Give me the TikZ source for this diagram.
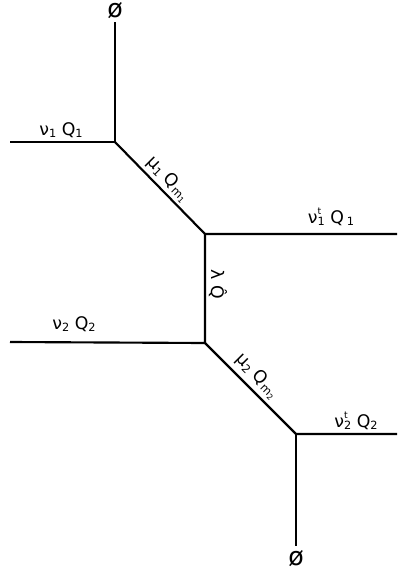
\documentclass[tikz,border=0pt]{standalone}
\usepackage{fontspec}
\setmainfont{DejaVu Sans}
\newcommand{\subtxt}[1]{\raisebox{-0.3ex}{\fontsize{8.5}{9}\selectfont#1}}
\newcommand{\supsubtxt}[2]{\makebox[0pt][l]{\raisebox{0.9ex}{\fontsize{7}{8}\selectfont#1}}\raisebox{-0.3ex}{\fontsize{8.5}{9}\selectfont#2}}
\tikzset{leg/.style={line width=1.6pt},
  lab/.style={inner sep=1pt,font=\fontsize{13}{15}\selectfont},
  empty/.style={inner sep=0pt,font=\fontsize{19}{21}\selectfont}}
\begin{document}
\begin{tikzpicture}[x=0.75pt,y=-0.75pt]
            \useasboundingbox (0,0) rectangle (397,575);
            \coordinate (a) at (115,142);
            \coordinate (b) at (205,234);
            \coordinate (c) at (205,343);
            \coordinate (d) at (296,434);
            \coordinate (l1) at (10,142);
            \coordinate (r1) at (397,234);
            \coordinate (l2) at (10,342);
            \coordinate (r2) at (397,434);
            \node[empty] (top) at (115,11) {ø};
            \node[empty] (bot) at (296,559) {ø};
            \draw[leg] (115,22) -- (a) -- (l1);
            \draw[leg] (a) -- (b) -- (r1);
            \draw[leg] (b) -- (c) -- (l2);
            \draw[leg] (c) -- (d) -- (r2);
            \draw[leg] (d) -- (296,546);
            \node[lab] (n1) at (61,130) {ν\subtxt{1} Q\subtxt{1}};
            \node[lab,rotate=-45] (m1) at (168,179) {μ\subtxt{1} Q\subtxt{m\raisebox{-0.3ex}{\fontsize{6}{7}\selectfont1}}};
            \node[lab] (t1) at (331,217) {ν\supsubtxt{t}{1} Q\,\subtxt{1}};
            \node[lab,rotate=-90] (lq) at (218,284) {λ \^{Q}};
            \node[lab] (n2) at (74,324) {ν\subtxt{2} Q\subtxt{2}};
            \node[lab,rotate=-45] (m2) at (257,376) {μ\subtxt{2} Q\subtxt{m\raisebox{-0.3ex}{\fontsize{6}{7}\selectfont2}}};
            \node[lab] (t2) at (356,421) {ν\supsubtxt{t}{2} Q\subtxt{2}};
        \end{tikzpicture}
\end{document}
